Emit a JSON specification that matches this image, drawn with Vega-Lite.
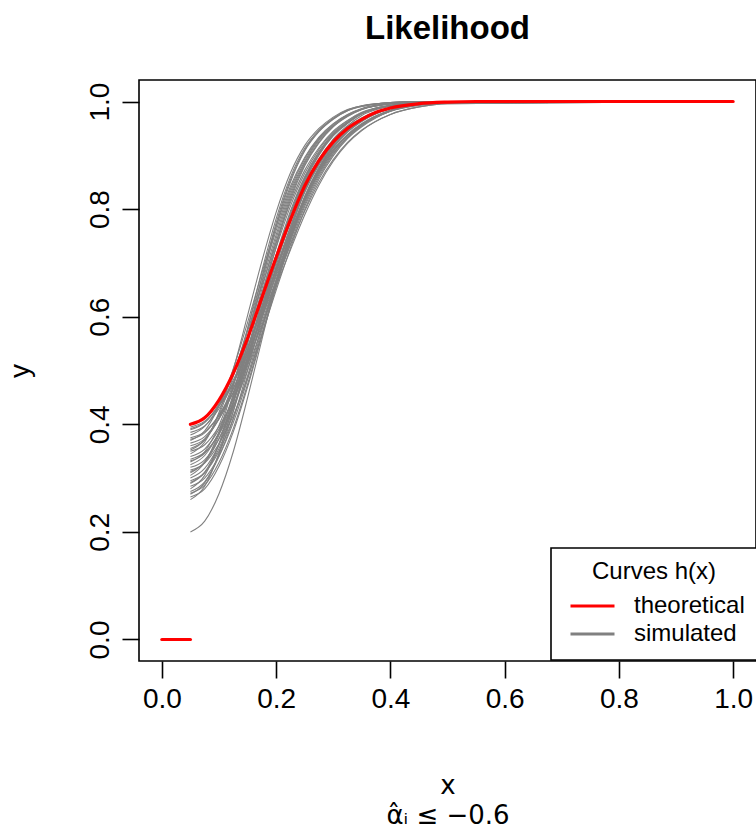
{
  "$schema": "https://vega.github.io/schema/vega-lite/v6.json",
  "width": 617,
  "height": 581,
  "autosize": {"type": "none"},
  "padding": {"left": 139, "top": 80, "right": 0, "bottom": 172},
  "background": "white",
  "title": {"text": "Likelihood", "font": "Liberation Sans", "fontSize": 33, "fontWeight": "bold", "color": "black", "anchor": "middle", "frame": "group", "baseline": "alphabetic", "offset": 8},
  "config": {
    "view": {"stroke": "black", "strokeWidth": 1.6},
    "axis": {"grid": false, "domain": false, "tickColor": "black", "tickWidth": 1.6, "tickSize": 17, "labelFont": "Liberation Sans", "labelFontSize": 28, "labelColor": "black", "labelFlush": false, "labelOverlap": false, "titleFont": "Liberation Sans", "titleFontSize": 28, "titleFontWeight": "normal", "titleColor": "black"},
    "legend": {
      "orient": "none", "legendX": 412, "legendY": 468,
      "titleFont": "Liberation Sans", "titleFontSize": 24, "titleFontWeight": "normal", "titleColor": "black", "titleAnchor": "middle", "titleAlign": "center", "titleBaseline": "top", "titlePadding": 8,
      "labelFont": "Liberation Sans", "labelFontSize": 24, "labelColor": "black", "labelOffset": 18,
      "symbolType": "stroke", "symbolSize": 1936, "symbolStrokeWidth": 3, "symbolOffset": 6,
      "clipHeight": 28, "rowPadding": 0, "padding": 12, "strokeColor": "black", "fillColor": "white"
    }
  },
  "datasets": {
    "theo": [
      {"seg": "a", "x": 0, "y": 0}, {"seg": "a", "x": 0.05, "y": 0},
      {"seg": "b", "x": 0.05, "y": 0.4}, {"seg": "b", "x": 0.075, "y": 0.412}, {"seg": "b", "x": 0.1, "y": 0.445}, {"seg": "b", "x": 0.125, "y": 0.495}, {"seg": "b", "x": 0.15, "y": 0.56}, {"seg": "b", "x": 0.175, "y": 0.635}, {"seg": "b", "x": 0.2, "y": 0.71}, {"seg": "b", "x": 0.225, "y": 0.78}, {"seg": "b", "x": 0.25, "y": 0.843}, {"seg": "b", "x": 0.275, "y": 0.89}, {"seg": "b", "x": 0.3, "y": 0.925}, {"seg": "b", "x": 0.325, "y": 0.95}, {"seg": "b", "x": 0.35, "y": 0.967}, {"seg": "b", "x": 0.375, "y": 0.98}, {"seg": "b", "x": 0.4, "y": 0.988}, {"seg": "b", "x": 0.45, "y": 0.996}, {"seg": "b", "x": 0.5, "y": 0.999}, {"seg": "b", "x": 0.55, "y": 1}, {"seg": "b", "x": 1, "y": 1}
    ],
    "sim": [
      {"c":1,"x":0.05,"y":0.395},{"c":1,"x":0.075,"y":0.406},{"c":1,"x":0.1,"y":0.434},{"c":1,"x":0.125,"y":0.477},{"c":1,"x":0.15,"y":0.532},{"c":1,"x":0.175,"y":0.598},{"c":1,"x":0.2,"y":0.667},{"c":1,"x":0.225,"y":0.733},{"c":1,"x":0.25,"y":0.796},{"c":1,"x":0.275,"y":0.85},{"c":1,"x":0.3,"y":0.892},{"c":1,"x":0.325,"y":0.924},{"c":1,"x":0.35,"y":0.947},{"c":1,"x":0.4,"y":0.976},{"c":1,"x":0.45,"y":0.99},{"c":1,"x":0.5,"y":0.996},{"c":1,"x":1,"y":1},
      {"c":2,"x":0.05,"y":0.39},{"c":2,"x":0.075,"y":0.403},{"c":2,"x":0.1,"y":0.438},{"c":2,"x":0.125,"y":0.491},{"c":2,"x":0.15,"y":0.559},{"c":2,"x":0.175,"y":0.637},{"c":2,"x":0.2,"y":0.714},{"c":2,"x":0.225,"y":0.785},{"c":2,"x":0.25,"y":0.848},{"c":2,"x":0.275,"y":0.894},{"c":2,"x":0.3,"y":0.929},{"c":2,"x":0.325,"y":0.953},{"c":2,"x":0.35,"y":0.97},{"c":2,"x":0.4,"y":0.989},{"c":2,"x":0.45,"y":0.996},{"c":2,"x":0.5,"y":0.999},{"c":2,"x":1,"y":1},
      {"c":3,"x":0.05,"y":0.385},{"c":3,"x":0.075,"y":0.397},{"c":3,"x":0.1,"y":0.429},{"c":3,"x":0.125,"y":0.476},{"c":3,"x":0.15,"y":0.539},{"c":3,"x":0.175,"y":0.611},{"c":3,"x":0.2,"y":0.685},{"c":3,"x":0.225,"y":0.755},{"c":3,"x":0.25,"y":0.819},{"c":3,"x":0.275,"y":0.871},{"c":3,"x":0.3,"y":0.91},{"c":3,"x":0.325,"y":0.938},{"c":3,"x":0.35,"y":0.958},{"c":3,"x":0.4,"y":0.983},{"c":3,"x":0.45,"y":0.994},{"c":3,"x":0.5,"y":0.998},{"c":3,"x":1,"y":1},
      {"c":4,"x":0.05,"y":0.38},{"c":4,"x":0.075,"y":0.396},{"c":4,"x":0.1,"y":0.435},{"c":4,"x":0.125,"y":0.495},{"c":4,"x":0.15,"y":0.573},{"c":4,"x":0.175,"y":0.657},{"c":4,"x":0.2,"y":0.738},{"c":4,"x":0.225,"y":0.812},{"c":4,"x":0.25,"y":0.872},{"c":4,"x":0.275,"y":0.914},{"c":4,"x":0.3,"y":0.945},{"c":4,"x":0.325,"y":0.965},{"c":4,"x":0.35,"y":0.98},{"c":4,"x":0.4,"y":0.993},{"c":4,"x":0.45,"y":0.998},{"c":4,"x":0.5,"y":1},{"c":4,"x":1,"y":1},
      {"c":5,"x":0.05,"y":0.375},{"c":5,"x":0.075,"y":0.386},{"c":5,"x":0.1,"y":0.416},{"c":5,"x":0.125,"y":0.459},{"c":5,"x":0.15,"y":0.517},{"c":5,"x":0.175,"y":0.584},{"c":5,"x":0.2,"y":0.656},{"c":5,"x":0.225,"y":0.724},{"c":5,"x":0.25,"y":0.789},{"c":5,"x":0.275,"y":0.845},{"c":5,"x":0.3,"y":0.889},{"c":5,"x":0.325,"y":0.922},{"c":5,"x":0.35,"y":0.946},{"c":5,"x":0.4,"y":0.976},{"c":5,"x":0.45,"y":0.99},{"c":5,"x":0.5,"y":0.996},{"c":5,"x":1,"y":1},
      {"c":6,"x":0.05,"y":0.37},{"c":6,"x":0.075,"y":0.388},{"c":6,"x":0.1,"y":0.434},{"c":6,"x":0.125,"y":0.503},{"c":6,"x":0.15,"y":0.589},{"c":6,"x":0.175,"y":0.681},{"c":6,"x":0.2,"y":0.767},{"c":6,"x":0.225,"y":0.842},{"c":6,"x":0.25,"y":0.896},{"c":6,"x":0.275,"y":0.934},{"c":6,"x":0.3,"y":0.959},{"c":6,"x":0.325,"y":0.976},{"c":6,"x":0.35,"y":0.987},{"c":6,"x":0.4,"y":0.996},{"c":6,"x":0.45,"y":0.999},{"c":6,"x":0.5,"y":1},{"c":6,"x":1,"y":1},
      {"c":7,"x":0.05,"y":0.365},{"c":7,"x":0.075,"y":0.377},{"c":7,"x":0.1,"y":0.41},{"c":7,"x":0.125,"y":0.459},{"c":7,"x":0.15,"y":0.524},{"c":7,"x":0.175,"y":0.599},{"c":7,"x":0.2,"y":0.675},{"c":7,"x":0.225,"y":0.747},{"c":7,"x":0.25,"y":0.813},{"c":7,"x":0.275,"y":0.867},{"c":7,"x":0.3,"y":0.907},{"c":7,"x":0.325,"y":0.936},{"c":7,"x":0.35,"y":0.957},{"c":7,"x":0.4,"y":0.983},{"c":7,"x":0.45,"y":0.994},{"c":7,"x":0.5,"y":0.997},{"c":7,"x":1,"y":1},
      {"c":8,"x":0.05,"y":0.36},{"c":8,"x":0.075,"y":0.373},{"c":8,"x":0.1,"y":0.41},{"c":8,"x":0.125,"y":0.466},{"c":8,"x":0.15,"y":0.537},{"c":8,"x":0.175,"y":0.619},{"c":8,"x":0.2,"y":0.7},{"c":8,"x":0.225,"y":0.775},{"c":8,"x":0.25,"y":0.841},{"c":8,"x":0.275,"y":0.889},{"c":8,"x":0.3,"y":0.925},{"c":8,"x":0.325,"y":0.951},{"c":8,"x":0.35,"y":0.968},{"c":8,"x":0.4,"y":0.988},{"c":8,"x":0.45,"y":0.996},{"c":8,"x":0.5,"y":0.999},{"c":8,"x":1,"y":1},
      {"c":9,"x":0.05,"y":0.355},{"c":9,"x":0.075,"y":0.371},{"c":9,"x":0.1,"y":0.412},{"c":9,"x":0.125,"y":0.475},{"c":9,"x":0.15,"y":0.556},{"c":9,"x":0.175,"y":0.643},{"c":9,"x":0.2,"y":0.728},{"c":9,"x":0.225,"y":0.805},{"c":9,"x":0.25,"y":0.866},{"c":9,"x":0.275,"y":0.911},{"c":9,"x":0.3,"y":0.943},{"c":9,"x":0.325,"y":0.964},{"c":9,"x":0.35,"y":0.979},{"c":9,"x":0.4,"y":0.993},{"c":9,"x":0.45,"y":0.997},{"c":9,"x":0.5,"y":1},{"c":9,"x":1,"y":1},
      {"c":10,"x":0.05,"y":0.35},{"c":10,"x":0.075,"y":0.362},{"c":10,"x":0.1,"y":0.396},{"c":10,"x":0.125,"y":0.446},{"c":10,"x":0.15,"y":0.513},{"c":10,"x":0.175,"y":0.589},{"c":10,"x":0.2,"y":0.667},{"c":10,"x":0.225,"y":0.741},{"c":10,"x":0.25,"y":0.809},{"c":10,"x":0.275,"y":0.864},{"c":10,"x":0.3,"y":0.904},{"c":10,"x":0.325,"y":0.934},{"c":10,"x":0.35,"y":0.956},{"c":10,"x":0.4,"y":0.982},{"c":10,"x":0.45,"y":0.994},{"c":10,"x":0.5,"y":0.997},{"c":10,"x":1,"y":1},
      {"c":11,"x":0.05,"y":0.345},{"c":11,"x":0.075,"y":0.367},{"c":11,"x":0.1,"y":0.422},{"c":11,"x":0.125,"y":0.502},{"c":11,"x":0.15,"y":0.602},{"c":11,"x":0.175,"y":0.703},{"c":11,"x":0.2,"y":0.794},{"c":11,"x":0.225,"y":0.867},{"c":11,"x":0.25,"y":0.918},{"c":11,"x":0.275,"y":0.95},{"c":11,"x":0.3,"y":0.971},{"c":11,"x":0.325,"y":0.985},{"c":11,"x":0.35,"y":0.992},{"c":11,"x":0.4,"y":0.998},{"c":11,"x":0.45,"y":1},{"c":11,"x":0.5,"y":1},{"c":11,"x":1,"y":1},
      {"c":12,"x":0.05,"y":0.34},{"c":12,"x":0.075,"y":0.354},{"c":12,"x":0.1,"y":0.391},{"c":12,"x":0.125,"y":0.449},{"c":12,"x":0.15,"y":0.523},{"c":12,"x":0.175,"y":0.607},{"c":12,"x":0.2,"y":0.69},{"c":12,"x":0.225,"y":0.768},{"c":12,"x":0.25,"y":0.836},{"c":12,"x":0.275,"y":0.886},{"c":12,"x":0.3,"y":0.923},{"c":12,"x":0.325,"y":0.949},{"c":12,"x":0.35,"y":0.967},{"c":12,"x":0.4,"y":0.988},{"c":12,"x":0.45,"y":0.996},{"c":12,"x":0.5,"y":0.999},{"c":12,"x":1,"y":1},
      {"c":13,"x":0.05,"y":0.335},{"c":13,"x":0.075,"y":0.348},{"c":13,"x":0.1,"y":0.382},{"c":13,"x":0.125,"y":0.433},{"c":13,"x":0.15,"y":0.501},{"c":13,"x":0.175,"y":0.58},{"c":13,"x":0.2,"y":0.66},{"c":13,"x":0.225,"y":0.735},{"c":13,"x":0.25,"y":0.805},{"c":13,"x":0.275,"y":0.86},{"c":13,"x":0.3,"y":0.902},{"c":13,"x":0.325,"y":0.933},{"c":13,"x":0.35,"y":0.955},{"c":13,"x":0.4,"y":0.982},{"c":13,"x":0.45,"y":0.993},{"c":13,"x":0.5,"y":0.997},{"c":13,"x":1,"y":1},
      {"c":14,"x":0.05,"y":0.33},{"c":14,"x":0.075,"y":0.349},{"c":14,"x":0.1,"y":0.398},{"c":14,"x":0.125,"y":0.471},{"c":14,"x":0.15,"y":0.563},{"c":14,"x":0.175,"y":0.661},{"c":14,"x":0.2,"y":0.752},{"c":14,"x":0.225,"y":0.832},{"c":14,"x":0.25,"y":0.889},{"c":14,"x":0.275,"y":0.93},{"c":14,"x":0.3,"y":0.956},{"c":14,"x":0.325,"y":0.975},{"c":14,"x":0.35,"y":0.986},{"c":14,"x":0.4,"y":0.996},{"c":14,"x":0.45,"y":0.999},{"c":14,"x":0.5,"y":1},{"c":14,"x":1,"y":1},
      {"c":15,"x":0.05,"y":0.325},{"c":15,"x":0.075,"y":0.342},{"c":15,"x":0.1,"y":0.385},{"c":15,"x":0.125,"y":0.451},{"c":15,"x":0.15,"y":0.535},{"c":15,"x":0.175,"y":0.626},{"c":15,"x":0.2,"y":0.715},{"c":15,"x":0.225,"y":0.796},{"c":15,"x":0.25,"y":0.86},{"c":15,"x":0.275,"y":0.907},{"c":15,"x":0.3,"y":0.941},{"c":15,"x":0.325,"y":0.962},{"c":15,"x":0.35,"y":0.978},{"c":15,"x":0.4,"y":0.993},{"c":15,"x":0.45,"y":0.997},{"c":15,"x":0.5,"y":1},{"c":15,"x":1,"y":1},
      {"c":16,"x":0.05,"y":0.32},{"c":16,"x":0.075,"y":0.334},{"c":16,"x":0.1,"y":0.373},{"c":16,"x":0.125,"y":0.432},{"c":16,"x":0.15,"y":0.508},{"c":16,"x":0.175,"y":0.595},{"c":16,"x":0.2,"y":0.681},{"c":16,"x":0.225,"y":0.761},{"c":16,"x":0.25,"y":0.831},{"c":16,"x":0.275,"y":0.882},{"c":16,"x":0.3,"y":0.92},{"c":16,"x":0.325,"y":0.948},{"c":16,"x":0.35,"y":0.966},{"c":16,"x":0.4,"y":0.988},{"c":16,"x":0.45,"y":0.996},{"c":16,"x":0.5,"y":0.999},{"c":16,"x":1,"y":1},
      {"c":17,"x":0.05,"y":0.315},{"c":17,"x":0.075,"y":0.328},{"c":17,"x":0.1,"y":0.364},{"c":17,"x":0.125,"y":0.416},{"c":17,"x":0.15,"y":0.486},{"c":17,"x":0.175,"y":0.567},{"c":17,"x":0.2,"y":0.649},{"c":17,"x":0.225,"y":0.727},{"c":17,"x":0.25,"y":0.799},{"c":17,"x":0.275,"y":0.856},{"c":17,"x":0.3,"y":0.899},{"c":17,"x":0.325,"y":0.931},{"c":17,"x":0.35,"y":0.953},{"c":17,"x":0.4,"y":0.982},{"c":17,"x":0.45,"y":0.993},{"c":17,"x":0.5,"y":0.997},{"c":17,"x":1,"y":1},
      {"c":18,"x":0.05,"y":0.31},{"c":18,"x":0.075,"y":0.33},{"c":18,"x":0.1,"y":0.38},{"c":18,"x":0.125,"y":0.456},{"c":18,"x":0.15,"y":0.55},{"c":18,"x":0.175,"y":0.651},{"c":18,"x":0.2,"y":0.745},{"c":18,"x":0.225,"y":0.827},{"c":18,"x":0.25,"y":0.886},{"c":18,"x":0.275,"y":0.928},{"c":18,"x":0.3,"y":0.955},{"c":18,"x":0.325,"y":0.974},{"c":18,"x":0.35,"y":0.986},{"c":18,"x":0.4,"y":0.996},{"c":18,"x":0.45,"y":0.999},{"c":18,"x":0.5,"y":1},{"c":18,"x":1,"y":1},
      {"c":19,"x":0.05,"y":0.305},{"c":19,"x":0.075,"y":0.329},{"c":19,"x":0.1,"y":0.386},{"c":19,"x":0.125,"y":0.472},{"c":19,"x":0.15,"y":0.577},{"c":19,"x":0.175,"y":0.685},{"c":19,"x":0.2,"y":0.782},{"c":19,"x":0.225,"y":0.859},{"c":19,"x":0.25,"y":0.913},{"c":19,"x":0.275,"y":0.947},{"c":19,"x":0.3,"y":0.969},{"c":19,"x":0.325,"y":0.984},{"c":19,"x":0.35,"y":0.992},{"c":19,"x":0.4,"y":0.998},{"c":19,"x":0.45,"y":1},{"c":19,"x":0.5,"y":1},{"c":19,"x":1,"y":1},
      {"c":20,"x":0.05,"y":0.3},{"c":20,"x":0.075,"y":0.318},{"c":20,"x":0.1,"y":0.362},{"c":20,"x":0.125,"y":0.43},{"c":20,"x":0.15,"y":0.518},{"c":20,"x":0.175,"y":0.612},{"c":20,"x":0.2,"y":0.705},{"c":20,"x":0.225,"y":0.788},{"c":20,"x":0.25,"y":0.855},{"c":20,"x":0.275,"y":0.903},{"c":20,"x":0.3,"y":0.938},{"c":20,"x":0.325,"y":0.961},{"c":20,"x":0.35,"y":0.978},{"c":20,"x":0.4,"y":0.992},{"c":20,"x":0.45,"y":0.997},{"c":20,"x":0.5,"y":1},{"c":20,"x":1,"y":1},
      {"c":21,"x":0.05,"y":0.295},{"c":21,"x":0.075,"y":0.31},{"c":21,"x":0.1,"y":0.35},{"c":21,"x":0.125,"y":0.411},{"c":21,"x":0.15,"y":0.49},{"c":21,"x":0.175,"y":0.581},{"c":21,"x":0.2,"y":0.669},{"c":21,"x":0.225,"y":0.752},{"c":21,"x":0.25,"y":0.824},{"c":21,"x":0.275,"y":0.878},{"c":21,"x":0.3,"y":0.918},{"c":21,"x":0.325,"y":0.946},{"c":21,"x":0.35,"y":0.965},{"c":21,"x":0.4,"y":0.987},{"c":21,"x":0.45,"y":0.996},{"c":21,"x":0.5,"y":0.999},{"c":21,"x":1,"y":1},
      {"c":22,"x":0.05,"y":0.29},{"c":22,"x":0.075,"y":0.311},{"c":22,"x":0.1,"y":0.362},{"c":22,"x":0.125,"y":0.44},{"c":22,"x":0.15,"y":0.537},{"c":22,"x":0.175,"y":0.641},{"c":22,"x":0.2,"y":0.737},{"c":22,"x":0.225,"y":0.822},{"c":22,"x":0.25,"y":0.883},{"c":22,"x":0.275,"y":0.925},{"c":22,"x":0.3,"y":0.954},{"c":22,"x":0.325,"y":0.973},{"c":22,"x":0.35,"y":0.985},{"c":22,"x":0.4,"y":0.996},{"c":22,"x":0.45,"y":0.999},{"c":22,"x":0.5,"y":1},{"c":22,"x":1,"y":1},
      {"c":23,"x":0.05,"y":0.285},{"c":23,"x":0.075,"y":0.3},{"c":23,"x":0.1,"y":0.341},{"c":23,"x":0.125,"y":0.403},{"c":23,"x":0.15,"y":0.483},{"c":23,"x":0.175,"y":0.575},{"c":23,"x":0.2,"y":0.665},{"c":23,"x":0.225,"y":0.748},{"c":23,"x":0.25,"y":0.822},{"c":23,"x":0.275,"y":0.876},{"c":23,"x":0.3,"y":0.916},{"c":23,"x":0.325,"y":0.945},{"c":23,"x":0.35,"y":0.964},{"c":23,"x":0.4,"y":0.987},{"c":23,"x":0.45,"y":0.996},{"c":23,"x":0.5,"y":0.999},{"c":23,"x":1,"y":1},
      {"c":24,"x":0.05,"y":0.28},{"c":24,"x":0.075,"y":0.305},{"c":24,"x":0.1,"y":0.364},{"c":24,"x":0.125,"y":0.453},{"c":24,"x":0.15,"y":0.562},{"c":24,"x":0.175,"y":0.673},{"c":24,"x":0.2,"y":0.774},{"c":24,"x":0.225,"y":0.854},{"c":24,"x":0.25,"y":0.91},{"c":24,"x":0.275,"y":0.945},{"c":24,"x":0.3,"y":0.968},{"c":24,"x":0.325,"y":0.983},{"c":24,"x":0.35,"y":0.991},{"c":24,"x":0.4,"y":0.998},{"c":24,"x":0.45,"y":1},{"c":24,"x":0.5,"y":1},{"c":24,"x":1,"y":1},
      {"c":25,"x":0.05,"y":0.275},{"c":25,"x":0.075,"y":0.293},{"c":25,"x":0.1,"y":0.34},{"c":25,"x":0.125,"y":0.41},{"c":25,"x":0.15,"y":0.5},{"c":25,"x":0.175,"y":0.598},{"c":25,"x":0.2,"y":0.694},{"c":25,"x":0.225,"y":0.78},{"c":25,"x":0.25,"y":0.85},{"c":25,"x":0.275,"y":0.9},{"c":25,"x":0.3,"y":0.936},{"c":25,"x":0.325,"y":0.959},{"c":25,"x":0.35,"y":0.977},{"c":25,"x":0.4,"y":0.992},{"c":25,"x":0.45,"y":0.997},{"c":25,"x":0.5,"y":1},{"c":25,"x":1,"y":1},
      {"c":26,"x":0.05,"y":0.27},{"c":26,"x":0.075,"y":0.291},{"c":26,"x":0.1,"y":0.344},{"c":26,"x":0.125,"y":0.424},{"c":26,"x":0.15,"y":0.524},{"c":26,"x":0.175,"y":0.631},{"c":26,"x":0.2,"y":0.73},{"c":26,"x":0.225,"y":0.817},{"c":26,"x":0.25,"y":0.88},{"c":26,"x":0.275,"y":0.923},{"c":26,"x":0.3,"y":0.953},{"c":26,"x":0.325,"y":0.972},{"c":26,"x":0.35,"y":0.985},{"c":26,"x":0.4,"y":0.996},{"c":26,"x":0.45,"y":0.999},{"c":26,"x":0.5,"y":1},{"c":26,"x":1,"y":1},
      {"c":27,"x":0.05,"y":0.265},{"c":27,"x":0.075,"y":0.28},{"c":27,"x":0.1,"y":0.322},{"c":27,"x":0.125,"y":0.386},{"c":27,"x":0.15,"y":0.469},{"c":27,"x":0.175,"y":0.563},{"c":27,"x":0.2,"y":0.655},{"c":27,"x":0.225,"y":0.741},{"c":27,"x":0.25,"y":0.817},{"c":27,"x":0.275,"y":0.873},{"c":27,"x":0.3,"y":0.914},{"c":27,"x":0.325,"y":0.943},{"c":27,"x":0.35,"y":0.963},{"c":27,"x":0.4,"y":0.987},{"c":27,"x":0.45,"y":0.996},{"c":27,"x":0.5,"y":0.999},{"c":27,"x":1,"y":1},
      {"c":28,"x":0.05,"y":0.26},{"c":28,"x":0.075,"y":0.285},{"c":28,"x":0.1,"y":0.347},{"c":28,"x":0.125,"y":0.438},{"c":28,"x":0.15,"y":0.55},{"c":28,"x":0.175,"y":0.664},{"c":28,"x":0.2,"y":0.768},{"c":28,"x":0.225,"y":0.85},{"c":28,"x":0.25,"y":0.908},{"c":28,"x":0.275,"y":0.944},{"c":28,"x":0.3,"y":0.967},{"c":28,"x":0.325,"y":0.983},{"c":28,"x":0.35,"y":0.991},{"c":28,"x":0.4,"y":0.998},{"c":28,"x":0.45,"y":1},{"c":28,"x":0.5,"y":1},{"c":28,"x":1,"y":1},
      {"c":29,"x":0.05,"y":0.2},{"c":29,"x":0.075,"y":0.22},{"c":29,"x":0.1,"y":0.271},{"c":29,"x":0.125,"y":0.349},{"c":29,"x":0.15,"y":0.449},{"c":29,"x":0.175,"y":0.557},{"c":29,"x":0.2,"y":0.662},{"c":29,"x":0.225,"y":0.758},{"c":29,"x":0.25,"y":0.834},{"c":29,"x":0.275,"y":0.89},{"c":29,"x":0.3,"y":0.93},{"c":29,"x":0.325,"y":0.955},{"c":29,"x":0.35,"y":0.974},{"c":29,"x":0.4,"y":0.991},{"c":29,"x":0.45,"y":0.997},{"c":29,"x":0.5,"y":1},{"c":29,"x":1,"y":1},
      {"c":30,"x":0.05,"y":0.392},{"c":30,"x":0.075,"y":0.404},{"c":30,"x":0.1,"y":0.435},{"c":30,"x":0.125,"y":0.482},{"c":30,"x":0.15,"y":0.544},{"c":30,"x":0.175,"y":0.616},{"c":30,"x":0.2,"y":0.689},{"c":30,"x":0.225,"y":0.758},{"c":30,"x":0.25,"y":0.821},{"c":30,"x":0.275,"y":0.872},{"c":30,"x":0.3,"y":0.911},{"c":30,"x":0.325,"y":0.939},{"c":30,"x":0.35,"y":0.959},{"c":30,"x":0.4,"y":0.984},{"c":30,"x":0.45,"y":0.994},{"c":30,"x":0.5,"y":0.998},{"c":30,"x":1,"y":1},
      {"c":31,"x":0.05,"y":0.372},{"c":31,"x":0.075,"y":0.384},{"c":31,"x":0.1,"y":0.417},{"c":31,"x":0.125,"y":0.465},{"c":31,"x":0.15,"y":0.529},{"c":31,"x":0.175,"y":0.603},{"c":31,"x":0.2,"y":0.679},{"c":31,"x":0.225,"y":0.75},{"c":31,"x":0.25,"y":0.815},{"c":31,"x":0.275,"y":0.868},{"c":31,"x":0.3,"y":0.908},{"c":31,"x":0.325,"y":0.937},{"c":31,"x":0.35,"y":0.957},{"c":31,"x":0.4,"y":0.983},{"c":31,"x":0.45,"y":0.994},{"c":31,"x":0.5,"y":0.998},{"c":31,"x":1,"y":1},
      {"c":32,"x":0.05,"y":0.352},{"c":32,"x":0.075,"y":0.371},{"c":32,"x":0.1,"y":0.418},{"c":32,"x":0.125,"y":0.489},{"c":32,"x":0.15,"y":0.578},{"c":32,"x":0.175,"y":0.672},{"c":32,"x":0.2,"y":0.76},{"c":32,"x":0.225,"y":0.837},{"c":32,"x":0.25,"y":0.893},{"c":32,"x":0.275,"y":0.932},{"c":32,"x":0.3,"y":0.958},{"c":32,"x":0.325,"y":0.975},{"c":32,"x":0.35,"y":0.986},{"c":32,"x":0.4,"y":0.996},{"c":32,"x":0.45,"y":0.999},{"c":32,"x":0.5,"y":1},{"c":32,"x":1,"y":1},
      {"c":33,"x":0.05,"y":0.332},{"c":33,"x":0.075,"y":0.346},{"c":33,"x":0.1,"y":0.384},{"c":33,"x":0.125,"y":0.442},{"c":33,"x":0.15,"y":0.517},{"c":33,"x":0.175,"y":0.603},{"c":33,"x":0.2,"y":0.687},{"c":33,"x":0.225,"y":0.765},{"c":33,"x":0.25,"y":0.834},{"c":33,"x":0.275,"y":0.884},{"c":33,"x":0.3,"y":0.922},{"c":33,"x":0.325,"y":0.949},{"c":33,"x":0.35,"y":0.967},{"c":33,"x":0.4,"y":0.988},{"c":33,"x":0.45,"y":0.996},{"c":33,"x":0.5,"y":0.999},{"c":33,"x":1,"y":1},
      {"c":34,"x":0.05,"y":0.312},{"c":34,"x":0.075,"y":0.329},{"c":34,"x":0.1,"y":0.373},{"c":34,"x":0.125,"y":0.44},{"c":34,"x":0.15,"y":0.526},{"c":34,"x":0.175,"y":0.619},{"c":34,"x":0.2,"y":0.71},{"c":34,"x":0.225,"y":0.792},{"c":34,"x":0.25,"y":0.858},{"c":34,"x":0.275,"y":0.905},{"c":34,"x":0.3,"y":0.94},{"c":34,"x":0.325,"y":0.961},{"c":34,"x":0.35,"y":0.978},{"c":34,"x":0.4,"y":0.992},{"c":34,"x":0.45,"y":0.997},{"c":34,"x":0.5,"y":1},{"c":34,"x":1,"y":1},
      {"c":35,"x":0.05,"y":0.292},{"c":35,"x":0.075,"y":0.31},{"c":35,"x":0.1,"y":0.355},{"c":35,"x":0.125,"y":0.424},{"c":35,"x":0.15,"y":0.512},{"c":35,"x":0.175,"y":0.608},{"c":35,"x":0.2,"y":0.701},{"c":35,"x":0.225,"y":0.786},{"c":35,"x":0.25,"y":0.853},{"c":35,"x":0.275,"y":0.902},{"c":35,"x":0.3,"y":0.938},{"c":35,"x":0.325,"y":0.96},{"c":35,"x":0.35,"y":0.977},{"c":35,"x":0.4,"y":0.992},{"c":35,"x":0.45,"y":0.997},{"c":35,"x":0.5,"y":1},{"c":35,"x":1,"y":1},
      {"c":36,"x":0.05,"y":0.272},{"c":36,"x":0.075,"y":0.287},{"c":36,"x":0.1,"y":0.329},{"c":36,"x":0.125,"y":0.392},{"c":36,"x":0.15,"y":0.474},{"c":36,"x":0.175,"y":0.567},{"c":36,"x":0.2,"y":0.659},{"c":36,"x":0.225,"y":0.744},{"c":36,"x":0.25,"y":0.819},{"c":36,"x":0.275,"y":0.874},{"c":36,"x":0.3,"y":0.915},{"c":36,"x":0.325,"y":0.944},{"c":36,"x":0.35,"y":0.964},{"c":36,"x":0.4,"y":0.987},{"c":36,"x":0.45,"y":0.996},{"c":36,"x":0.5,"y":0.999},{"c":36,"x":1,"y":1}
    ]
  },
  "encoding": {
    "x": {
      "field": "x", "type": "quantitative",
      "scale": {"domain": [-0.04, 1.04], "nice": false, "zero": false},
      "axis": {"values": [0, 0.2, 0.4, 0.6, 0.8, 1], "format": ".1f", "labelPadding": 29, "labelBaseline": "alphabetic", "labelAlign": "center",
               "title": ["x", "α̂ᵢ ≤  −0.6"], "titleFont": "DejaVu Sans", "titleFontSize": 26, "titleBaseline": "alphabetic", "titleY": 132, "titleLineHeight": 30}
    },
    "y": {
      "field": "y", "type": "quantitative",
      "scale": {"domain": [-0.04, 1.04], "nice": false, "zero": false},
      "axis": {"values": [0, 0.2, 0.4, 0.6, 0.8, 1], "format": ".1f", "labelAngle": -90, "labelPadding": 14, "labelBaseline": "alphabetic", "labelAlign": "center",
               "title": "y", "titleAngle": 270, "titleBaseline": "alphabetic", "titleAlign": "center", "titleX": -111, "titleY": 290.5}
    }
  },
  "layer": [
    {
      "data": {"name": "sim"},
      "mark": {"type": "line", "strokeWidth": 1.1, "interpolate": "monotone"},
      "encoding": {
        "detail": {"field": "c", "type": "nominal"},
        "color": {"datum": "simulated", "type": "nominal",
                  "scale": {"domain": ["theoretical", "simulated"], "range": ["#ff0000", "#808080"]},
                  "legend": {"title": "Curves h(x)", "encode": {"symbols": {"update": {"strokeWidth": {"value": 3}}}, "legend": {"update": {"strokeWidth": {"value": 1.6}}}}}}
      }
    },
    {
      "data": {"name": "theo"},
      "mark": {"type": "line", "strokeWidth": 3.2, "strokeCap": "round", "interpolate": "monotone"},
      "encoding": {
        "detail": {"field": "seg", "type": "nominal"},
        "color": {"datum": "theoretical", "type": "nominal"}
      }
    }
  ]
}
